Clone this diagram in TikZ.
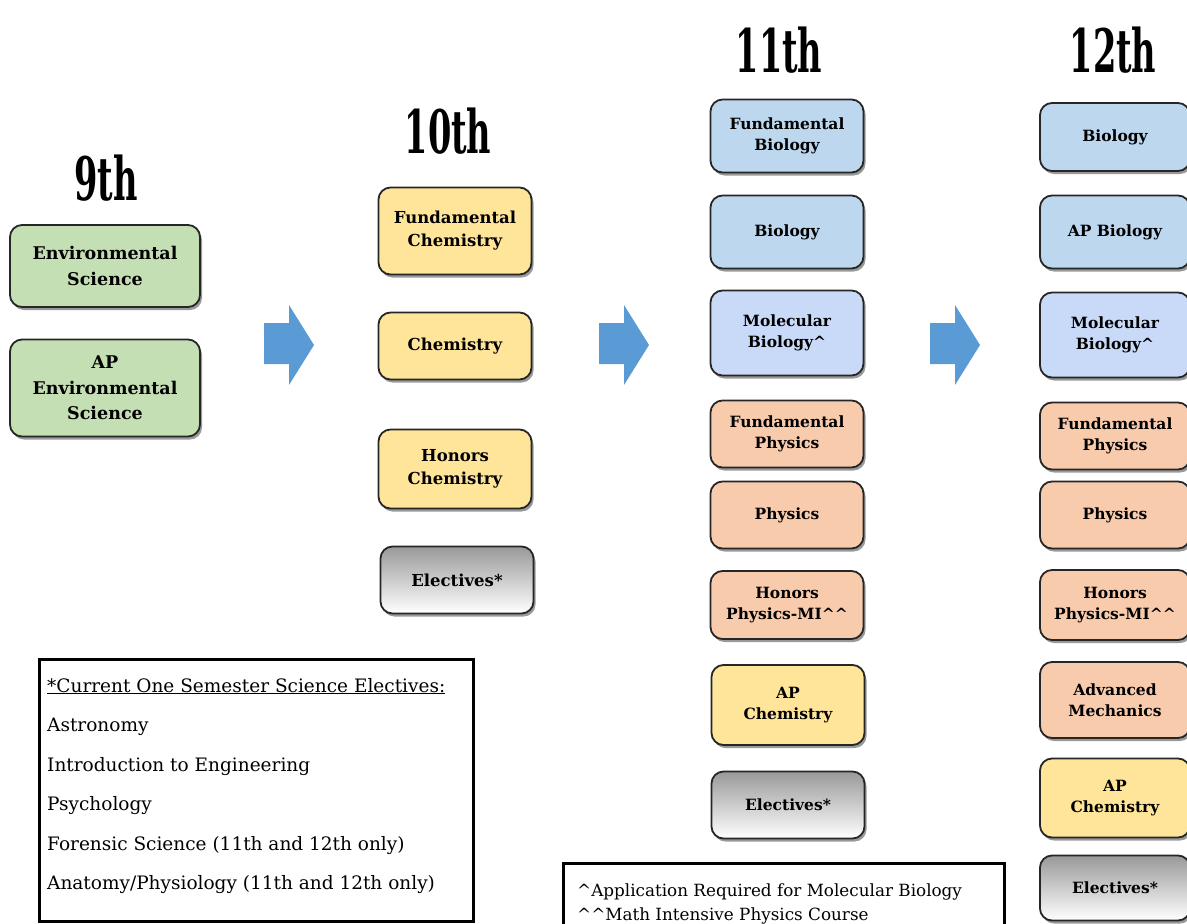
\documentclass[tikz,border=0pt]{standalone}
\usepackage{fontspec}
\setmainfont{DejaVu Serif}
\newfontfamily\headfont[FakeStretch=0.56]{DejaVu Serif}
\usetikzlibrary{shadows}

\definecolor{envgreen}{HTML}{C5DFB4}
\definecolor{chemyellow}{HTML}{FFE59A}
\definecolor{bioblue}{HTML}{BDD7EE}
\definecolor{molblue}{HTML}{C9DAF8}
\definecolor{physorange}{HTML}{F8CBAD}
\definecolor{arrowblue}{HTML}{5B9BD5}

\tikzset{
    course/.style = {draw = black!85, line width = 1.8pt, rounded corners = 12pt,
        align = center, inner sep = 2pt, minimum width = 153pt,
        font = \fontsize{15.5}{21}\selectfont\bfseries,
        drop shadow = {shadow xshift = 2pt, shadow yshift = -3pt, opacity = 0.4, fill = black}},
    envbox/.style = {course, fill = envgreen, minimum width = 190pt, font = \fontsize{17.5}{25.5}\selectfont\bfseries},
    chembox/.style = {course, fill = chemyellow},
    biobox/.style = {course, fill = bioblue},
    molbox/.style = {course, fill = molblue},
    physbox/.style = {course, fill = physorange},
    electbox/.style = {course, top color = black!40, bottom color = white},
    tenth/.style = {font = \fontsize{16.5}{23}\selectfont\bfseries},
    year/.style = {font = \headfont\bfseries\fontsize{60}{60}\selectfont},
    listline/.style = {anchor = base west, inner sep = 0pt, font = \fontsize{18.5}{22}\selectfont},
    noteline/.style = {anchor = base west, inner sep = 0pt, font = \fontsize{16.8}{20}\selectfont}
}

\begin{document}
\begin{tikzpicture}[x = 1pt, y = -1pt]
    \useasboundingbox (0, 0) rectangle (1187, 924);
    % year headings
    \node[year] (Ninth) at (106, 178) {9th};
    \node[year] (Tenth) at (448, 131) {10th};
    \node[year] (Eleventh) at (779, 50) {11th};
    \node[year] (Twelfth) at (1113, 50) {12th};
    % 9th grade
    \node[envbox, minimum height = 82pt] (Env Sci) at (105, 266) {Environmental\\Science};
    \node[envbox, minimum height = 97pt] (AP Env Sci) at (105, 388) {AP\\Environmental\\Science};
    % 10th grade
    \node[chembox, tenth, minimum height = 87pt] (Fund Chem) at (455, 231) {Fundamental\\Chemistry};
    \node[chembox, tenth, minimum height = 67pt] (Chem) at (455, 346) {Chemistry};
    \node[chembox, tenth, minimum height = 79pt] (Hon Chem) at (455, 469) {Honors\\Chemistry};
    \node[electbox, tenth, minimum height = 67pt] (Elect 10) at (457, 580) {Electives*};
    % 11th grade
    \node[biobox, minimum height = 73pt] (Fund Bio 11) at (787, 136) {Fundamental\\Biology};
    \node[biobox, minimum height = 73pt] (Bio 11) at (787, 232) {Biology};
    \node[molbox, minimum height = 85pt] (Mol Bio 11) at (787, 333) {Molecular\\Biology\textasciicircum};
    \node[physbox, minimum height = 67pt] (Fund Phys 11) at (787, 434) {Fundamental\\Physics};
    \node[physbox, minimum height = 67pt] (Phys 11) at (787, 515) {Physics};
    \node[physbox, minimum height = 68pt] (Hon Phys 11) at (787, 605) {Honors\\Physics-MI\textasciicircum\textasciicircum};
    \node[chembox, minimum height = 80pt] (AP Chem 11) at (788, 705) {AP\\Chemistry};
    \node[electbox, minimum height = 67pt] (Elect 11) at (788, 805) {Electives*};
    % 12th grade
    \node[biobox, minimum width = 150pt, minimum height = 68pt] (Bio 12) at (1115, 137) {Biology};
    \node[biobox, minimum width = 150pt, minimum height = 73pt] (AP Bio 12) at (1115, 232) {AP Biology};
    \node[molbox, minimum width = 150pt, minimum height = 85pt] (Mol Bio 12) at (1115, 335) {Molecular\\Biology\textasciicircum};
    \node[physbox, minimum width = 150pt, minimum height = 67pt] (Fund Phys 12) at (1115, 436) {Fundamental\\Physics};
    \node[physbox, minimum width = 150pt, minimum height = 67pt] (Phys 12) at (1115, 515) {Physics};
    \node[physbox, minimum width = 150pt, minimum height = 70pt] (Hon Phys 12) at (1115, 605) {Honors\\Physics-MI\textasciicircum\textasciicircum};
    \node[physbox, minimum width = 150pt, minimum height = 76pt] (Adv Mech 12) at (1115, 700) {Advanced\\Mechanics};
    \node[chembox, minimum width = 150pt, minimum height = 79pt] (AP Chem 12) at (1115, 798) {AP\\Chemistry};
    \node[electbox, minimum width = 150pt, minimum height = 65pt] (Elect 12) at (1115, 888) {Electives*};
    % block arrows between the years
    \foreach \x in {264, 599, 930}
        \fill[arrowblue] (\x, 323) -- (\x + 25, 323) -- (\x + 25, 305) -- (\x + 50, 345)
            -- (\x + 25, 385) -- (\x + 25, 364) -- (\x, 364) -- cycle;
    % electives list
    \node[draw, line width = 3pt, anchor = north west, minimum width = 434pt, minimum height = 262pt] (Elect List) at (38, 658) {};
    \node[listline] (List Head) at (47, 692) {\underline{*Current One Semester Science Electives:}};
    \node[listline] (Astro) at (47, 731) {Astronomy};
    \node[listline] (Engin) at (47, 771) {Introduction to Engineering};
    \node[listline] (Psych) at (47, 810) {Psychology};
    \node[listline] (Foren) at (47, 850) {Forensic Science (11th and 12th only)};
    \node[listline] (Anat) at (47, 889) {Anatomy/Physiology (11th and 12th only)};
    % footnotes
    \node[draw, line width = 3pt, anchor = north west, minimum width = 441pt, minimum height = 90pt] (Notes) at (562, 862) {};
    \node[noteline] (Note 1) at (577, 896) {\textasciicircum Application Required for Molecular Biology};
    \node[noteline] (Note 2) at (577, 920) {\textasciicircum\textasciicircum Math Intensive Physics Course};
\end{tikzpicture}
\end{document}
